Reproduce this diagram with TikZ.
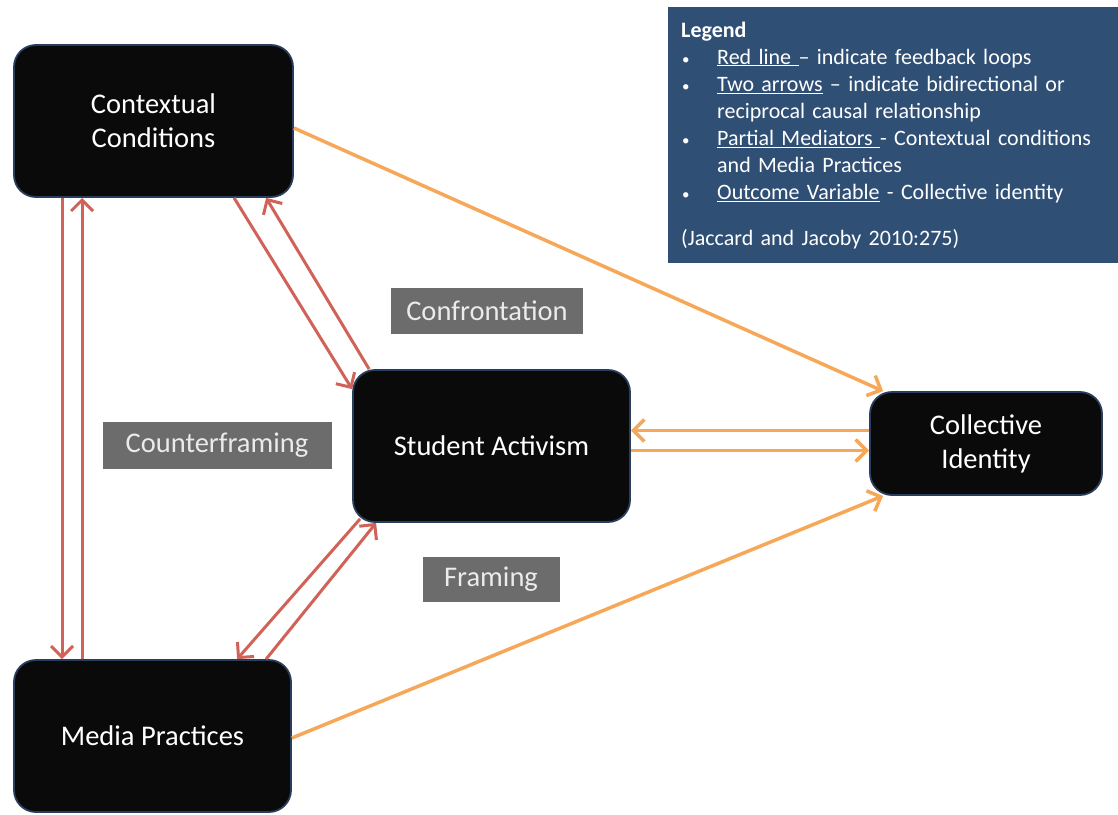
\documentclass[tikz,border=0pt]{standalone}
\usepackage{fontspec}
\setmainfont{Carlito}
\usetikzlibrary{arrows.meta}
\definecolor{boxedge}{RGB}{40,62,92}
\definecolor{tagfill}{RGB}{108,108,108}
\definecolor{legfill}{RGB}{47,79,117}
\definecolor{loopred}{RGB}{208,98,88}
\definecolor{pathorange}{RGB}{246,168,88}
% one bullet line of the legend, hanging indent for wrapped lines
\newcommand{\legitem}[1]{\par\hangindent=36pt\hangafter=1\noindent
  \makebox[36pt][l]{\hspace{1pt}{\fontsize{15}{15}\selectfont\textbullet}}#1}

\begin{document}
\begin{tikzpicture}[x=1pt, y=1pt, >={Straight Barb[length=11pt,width=22pt]},
  var/.style={draw=boxedge, line width=1.8pt, fill=black!96, rounded corners=22pt, text=white, align=center,
    font=\fontsize{28.5}{34}\selectfont, inner sep=0pt},
  tag/.style={fill=tagfill, text=white!92!black, font=\fontsize{28.5}{32}\selectfont, inner sep=0pt},
  fb/.style={->, draw=loopred, line width=3pt},
  eff/.style={->, draw=pathorange, line width=3.5pt}]
  \useasboundingbox (0,0) rectangle (1118,-814);

  % variables
  \node[var, minimum width=279pt, minimum height=152pt] (ctx) at (153.5,-121) {Contextual\\Conditions};
  \node[var, minimum width=277pt, minimum height=152pt] (stu) at (491.5,-446) {Student Activism};
  \node[var, minimum width=232pt, minimum height=103pt] (col) at (986,-443.5) {Collective\\Identity};
  \node[var, minimum width=277pt, minimum height=152pt] (med) at (152.5,-736) {Media Practices};

  % mechanism tags
  \node[tag, minimum width=192pt, minimum height=46pt] (conf) at (487,-311) {Confrontation};
  \node[tag, minimum width=229pt, minimum height=47pt] (ctrf) at (217,-445) {Counterframing};
  \node[tag, minimum width=137pt, minimum height=45pt] (fram) at (491,-579) {Framing};

  % legend
  \node[fill=legfill, text=white, anchor=north west, minimum height=256pt, inner xsep=13pt, inner ysep=0pt,
    text width=424pt, align=left, font=\fontsize{22}{27}\selectfont] (leg) at (668,-7) {%
    \textbf{Legend}
    \legitem{\underline{Red line\ }– indicate feedback loops}
    \legitem{\underline{Two arrows} – indicate bidirectional or\newline reciprocal causal relationship}
    \legitem{\underline{Partial Mediators\ }- Contextual conditions\newline and Media Practices}
    \legitem{\underline{Outcome Variable} - Collective identity}
    \par\vspace{19pt}\noindent(Jaccard and Jacoby 2010:275)};

  % feedback loops
  \draw[fb] ([xshift=49pt]ctx.south west) -- ([xshift=49pt]med.north west);
  \draw[fb] ([xshift=69pt]med.north west) -- ([xshift=69pt]ctx.south west);
  \draw[fb] ([xshift=221pt]ctx.south west) -- ([yshift=-20pt]stu.north west);
  \draw[fb] ([xshift=17pt]stu.north west) -- ([xshift=253pt]ctx.south west);
  \draw[fb] ([xshift=8pt,yshift=4pt]stu.south west) -- ([xshift=224pt]med.north west);
  \draw[fb] ([xshift=253pt]med.north west) -- ([xshift=24pt]stu.south west);

  % paths to the outcome
  \draw[eff] ([yshift=-7pt]ctx.east) -- ([xshift=14pt]col.north west);
  \draw[eff] ([yshift=-2pt]med.east) -- ([xshift=14pt]col.south west);
  \draw[eff] ([yshift=13pt]col.west) -- ([yshift=13pt]col.west -| stu.east);
  \draw[eff] ([yshift=-7pt]col.west -| stu.east) -- ([yshift=-7pt]col.west);
\end{tikzpicture}
\end{document}
